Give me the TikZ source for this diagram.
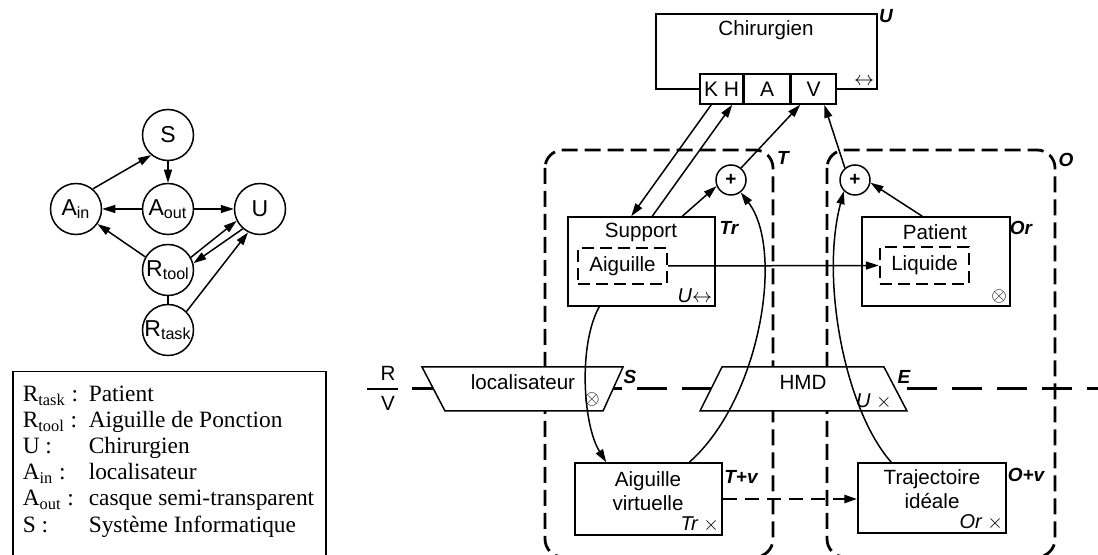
\documentclass[tikz,border=0pt]{standalone}
\usepackage{fontspec}
\setmainfont{Liberation Sans}
\newfontfamily\legendfont{Liberation Serif}
\usetikzlibrary{positioning, calc, arrows.meta}
\tikzset{every picture/.append style={line width=0.75pt}}
\tikzset{
  blk/.style={draw, fill=white, inner sep=0pt},
  sub/.style={blk, minimum width=22.5pt, minimum height=15pt, font=\fontsize{10.5}{12}\selectfont},
  dbox/.style={draw, dash pattern=on 6pt off 3pt, line width=1.2pt, inner sep=0pt, font=\fontsize{10.3}{12}\selectfont},
  region/.style={dash pattern=on 8pt off 3.5pt, line width=1.4pt, rounded corners=9pt},
  plane/.style={dash pattern=on 15pt off 7.5pt, line width=1.5pt},
  trap/.style={draw, fill=white},
  gnode/.style={draw, circle, minimum size=25.5pt, inner sep=0pt, font=\fontsize{11.5}{13}\selectfont},
  sumnode/.style={draw, circle, fill=white, minimum size=15pt, inner sep=0pt, font=\bfseries\fontsize{9.5}{10}\selectfont},
  lbl/.style={font=\bfseries\itshape\fontsize{9.5}{11}\selectfont, inner sep=0pt},
  note/.style={font=\itshape\fontsize{10}{11}\selectfont, inner sep=1.5pt},
  txt/.style={font=\fontsize{10.3}{11.8}\selectfont, inner sep=0pt, align=center},
  leg/.style={font=\legendfont\fontsize{11.7}{13}\selectfont, anchor=base west, inner sep=0pt},
}
\begin{document}
\begin{tikzpicture}[x=0.5pt, y=-0.5pt, >={Triangle[length=6.5pt,width=4pt]}]
\useasboundingbox (0,0) rectangle (1098,555);

% graphe
\node[gnode] (s) at (168,135) {S};
\node[gnode] (ain) at (76,209) {A\textsubscript{in}};
\node[gnode] (aout) at (168,209) {A\textsubscript{out}};
\node[gnode] (u) at (260,209) {U};
\node[gnode] (rtool) at (168,270) {R\textsubscript{tool}};
\node[gnode] (rtask) at (168,330) {R\textsubscript{task}};
\draw[->] (ain.50) -- (s.230);
\draw[->] (s) -- (aout);
\draw[->] (aout) -- (ain);
\draw[->] (aout) -- (u);
\draw[->] (rtool.150) -- (ain.-35);
\draw[->] (rtool.29) -- (u.207);
\draw[->] (u.229) -- (rtool.15);
\draw[->] (rtask.45) -- (u.243);
\draw (rtool) -- (rtask);

% legende
\node[draw, minimum width=156.5pt, minimum height=93.5pt, anchor=north west, inner sep=0pt] (legend) at (12,371) {};
\node[leg] (l1) at (22,402) {R\textsubscript{task} :};
\node[leg] (l2) at (22,428) {R\textsubscript{tool} :};
\node[leg] (l3) at (22,454) {U :};
\node[leg] (l4) at (22,480) {A\textsubscript{in} :};
\node[leg] (l5) at (22,506) {A\textsubscript{out} :};
\node[leg] (l6) at (22,532) {S :};
\node[leg] (m1) at (88,402) {Patient};
\node[leg] (m2) at (88,428) {Aiguille de Ponction};
\node[leg] (m3) at (88,454) {Chirurgien};
\node[leg] (m4) at (88,480) {localisateur};
\node[leg] (m5) at (88,506) {casque semi-transparent};
\node[leg] (m6) at (88,532) {Système Informatique};

% domaines T et O, plan R/V
\draw[region] (545,150) rectangle (773,557);
\draw[region] (827,150) rectangle (1055,557);
\node[lbl] (tt) at (783,158) {T};
\node[lbl] (to) at (1066,160) {O};
\node[txt] (rr) at (388,373) {R};
\node[txt] (vv) at (388,403) {V};
\draw (367,389) -- (398,389);
\draw[plane] (412,389) -- (1098,389);

% localisateur et HMD
\draw[trap] (422,367) -- (623,367) -- (603,411) -- (445,411) -- cycle;
\draw[trap] (722,367) -- (884,367) -- (907,411) -- (700,411) -- cycle;
\node[txt] (loc) at (523,382) {localisateur};
\node[txt] (hmd) at (803,382) {HMD};
\node[note] (locsym) at (592,400) {$\otimes$};
\node[lbl] (ts) at (630,377) {S};
\node[lbl] (te) at (904,377) {E};
\node[note] (hmdsym) at (874,401) {U $\times$};

% Chirurgien
\node[blk, minimum width=110.5pt, minimum height=37.5pt] (chir) at (766.5,51.5) {};
\node[txt] (chirtxt) at (766,30) {Chirurgien};
\node[sub, minimum width=21.5pt] (kh) at (721.5,89) {K H};
\node[sub, right=0pt of kh] (a) {A};
\node[sub, right=0pt of a] (v) {V};
\node[note, anchor=south east] (chirsym) at (chir.south east) {$\leftrightarrow$};
\node[lbl] (tu) at (886,16) {U};

% Support, Patient
\node[blk, minimum width=73.5pt, minimum height=44.5pt] (support) at (641.5,261.5) {};
\node[txt] (suptxt) at (641,232) {Support};
\node[dbox, minimum width=44.5pt, minimum height=18pt] (aig) at (622.5,266) {Aiguille};
\node[lbl] (ttr) at (729,228) {Tr};
\node[note, anchor=south east] (supsym) at (support.south east) {U$\leftrightarrow$};
\node[blk, minimum width=74pt, minimum height=44.5pt] (patient) at (936,261.5) {};
\node[txt] (pattxt) at (935,232) {Patient};
\node[dbox, minimum width=44.5pt, minimum height=18.5pt] (liq) at (924.5,265.5) {Liquide};
\node[lbl] (tor) at (1021,228) {Or};
\node[note, anchor=south east] (patsym) at (patient.south east) {$\otimes$};

% virtuel
\node[blk, minimum width=73.5pt, minimum height=36pt] (vav) at (648.5,499) {};
\node[txt] (vavtxt) at (648,491) {Aiguille\\virtuelle};
\node[lbl] (ttv) at (741,477) {T+v};
\node[note, anchor=south east] (vavsym) at (vav.south east) {Tr $\times$};
\node[blk, minimum width=74pt, minimum height=35pt] (traj) at (932,498) {};
\node[txt] (trajtxt) at (932,489) {Trajectoire\\idéale};
\node[lbl] (tov) at (1026,475) {O+v};
\node[note, anchor=south east] (trajsym) at (traj.south east) {Or $\times$};

\node[sumnode] (tplus) at (731,180) {+};
\node[sumnode] (oplus) at (855,180) {+};

% liens
\draw[->] ([xshift=6pt]kh.south west) -- ([xshift=32pt]support.north west);
\draw[->] ([xshift=42.5pt]support.north west) -- ([xshift=16.5pt]kh.south west);
\draw[->] ([xshift=57.5pt]support.north west) -- (tplus.203);
\draw[->] (tplus.50) -- ([xshift=5pt]v.south west);
\draw[->] (oplus.130) -- ([xshift=17pt]v.south west);
\draw[->] ([xshift=30.5pt]patient.north west) -- (oplus.-10);
\draw[->] (aig.east) -- (liq.west);
\draw[->, dash pattern=on 7pt off 4pt, line width=1.3pt] (vav.east) -- (vav.east -| traj.west);
\draw[->] ([xshift=16pt]support.south west) .. controls (578,345) and (583,425) .. ([xshift=16pt]vav.north west);
\draw[->] ([xshift=57.5pt]vav.north west) .. controls (760,400) and (785,250) .. (tplus.-52);
\draw[->] ([xshift=17pt]traj.north west) .. controls (845,410) and (820,280) .. (oplus.-135);
\end{tikzpicture}
\end{document}
